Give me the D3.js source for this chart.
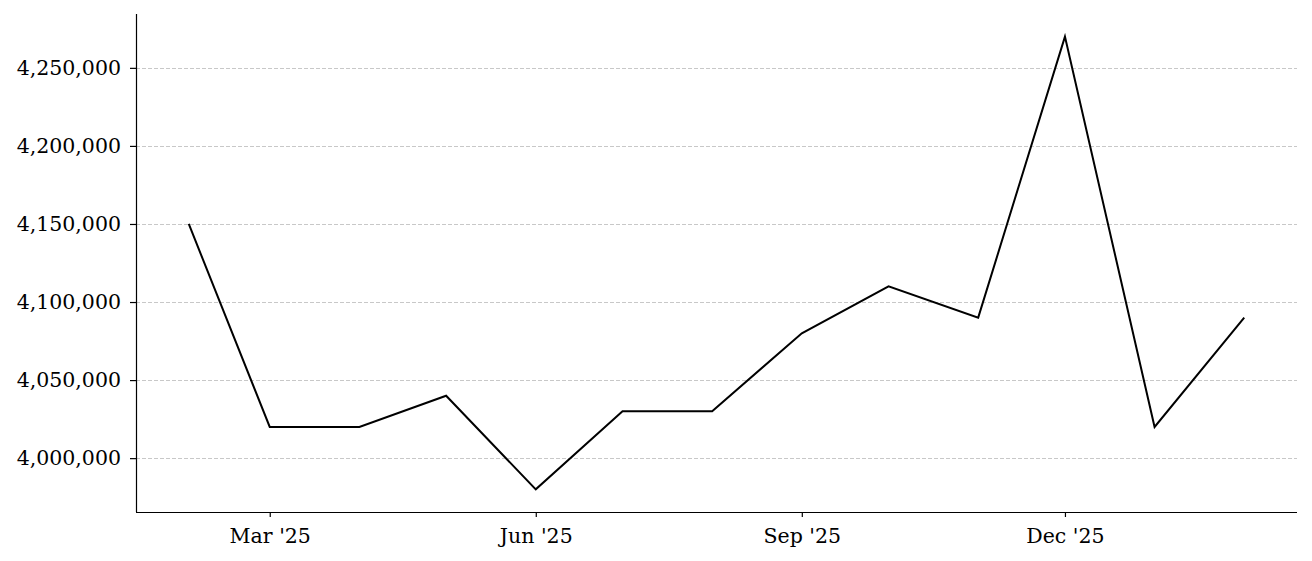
<!DOCTYPE html>
<html>
<head>
<meta charset="utf-8">
<script src="https://cdn.jsdelivr.net/npm/d3@7"></script>
<style>
  body { margin: 0; background: #fff; }
  svg text { font-family: "DejaVu Serif", serif; }
</style>
</head>
<body>
<svg id="chart" width="1312" height="561"></svg>
<script>
// ============ Data ============
const months = ["2025-02-01","2025-03-01","2025-04-01","2025-05-01","2025-06-01","2025-07-01",
  "2025-08-01","2025-09-01","2025-10-01","2025-11-01","2025-12-01","2026-01-01","2026-02-01"];
const values = [4150000, 4020000, 4020000, 4040000, 3980000, 4030000,
  4030000, 4080000, 4110000, 4090000, 4270000, 4020000, 4090000];
const xTickDates = ["2025-03-01","2025-06-01","2025-09-01","2025-12-01"];
const yTicks = [4000000, 4050000, 4100000, 4150000, 4200000, 4250000];

// ============ Layout ============
const W = 1312, H = 561;
const M = { top: 14, right: 15, bottom: 49, left: 136 };
const parse = d3.utcParse("%Y-%m-%d");
const data = months.map((m, i) => ({ date: parse(m), value: values[i] }));

const svg = d3.select("#chart");

// matplotlib-like 5% margins
const xExt = d3.extent(data, d => d.date);
const xPad = (xExt[1] - xExt[0]) * 0.05;
const x = d3.scaleUtc()
  .domain([new Date(+xExt[0] - xPad), new Date(+xExt[1] + xPad)])
  .range([M.left, W - M.right]);

const yExt = d3.extent(values);
const yPad = (yExt[1] - yExt[0]) * 0.05;
const y = d3.scaleLinear()
  .domain([yExt[0] - yPad, yExt[1] + yPad])
  .range([H - M.bottom, M.top]);

// ---- Grid ----
svg.append("g")
  .selectAll("line")
  .data(yTicks)
  .enter().append("line")
  .attr("x1", M.left).attr("x2", W - M.right)
  .attr("y1", d => Math.round(y(d)) + 0.5).attr("y2", d => Math.round(y(d)) + 0.5)
  .attr("stroke", "#c8c8c8")
  .attr("stroke-width", 1)
  .attr("stroke-dasharray", "4,2");

// ---- Line ----
const line = d3.line().x(d => x(d.date)).y(d => y(d.value));
svg.append("path")
  .datum(data)
  .attr("fill", "none")
  .attr("stroke", "#000")
  .attr("stroke-width", 2)
  .attr("stroke-linejoin", "miter")
  .attr("d", line);

// ---- Axes ----
const fmtX = d3.utcFormat("%b '%y");
const xAxis = svg.append("g")
  .attr("transform", `translate(0,${H - M.bottom})`)
  .call(d3.axisBottom(x)
    .tickValues(xTickDates.map(parse))
    .tickFormat(fmtX)
    .tickSize(5)
    .tickPadding(11.5));

const yAxis = svg.append("g")
  .attr("transform", `translate(${M.left},0)`)
  .call(d3.axisLeft(y)
    .tickValues(yTicks)
    .tickFormat(d3.format(","))
    .tickSize(6)
    .tickPadding(9));

[xAxis, yAxis].forEach(g => {
  g.select(".domain").attr("stroke", "#000").attr("stroke-width", 1.2);
  g.selectAll(".tick line").attr("stroke", "#000").attr("stroke-width", 1.2);
  g.selectAll(".tick text")
    .attr("fill", "#000")
    .style("font-family", "'DejaVu Serif', serif")
    .style("font-size", "20.5px");
});
// drop the outer tick caps so the spines look like matplotlib's
xAxis.select(".domain").attr("d", `M${M.left},0.5H${W - M.right}`);
yAxis.select(".domain").attr("d", `M0.5,${H - M.bottom}V${M.top}`);
</script>
</body>
</html>
